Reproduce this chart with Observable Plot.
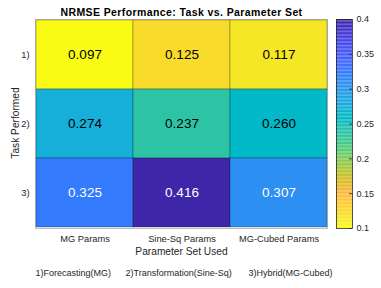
<!DOCTYPE html>
<html><head><meta charset="utf-8">
<script src="https://cdn.jsdelivr.net/npm/d3@7"></script>
<script src="https://cdn.jsdelivr.net/npm/@observablehq/plot@0.6"></script>
<style>
body{margin:0;background:#fff;}
#wrap{position:relative;width:381px;height:288px;}
#wrap svg{position:absolute;top:0;}
</style></head><body><div id="wrap"></div>
<script>
// ---- data ----
const paramSets = ["MG Params", "Sine-Sq Params", "MG-Cubed Params"];
const tasks = ["1)", "2)", "3)"];
const row1 = [0.097, 0.125, 0.117];
const row2 = [0.274, 0.237, 0.260];
const row3 = [0.325, 0.416, 0.307];
const colorTicks = [0.1, 0.15, 0.2, 0.25, 0.3, 0.35, 0.4];
const colorDomain = [0.1, 0.4];
const titleText = "NRMSE Performance: Task vs. Parameter Set";
const xLabel = "Parameter Set Used";
const yLabel = "Task Performed";
const captionItems = ["1)Forecasting(MG)", "2)Transformation(Sine-Sq)", "3)Hybrid(MG-Cubed)"];

// MATLAB parula colormap (64 entries)
const parula = [
[0.2422,0.1504,0.6603],[0.2504,0.1650,0.7076],[0.2578,0.1818,0.7511],[0.2647,0.1978,0.7952],
[0.2706,0.2147,0.8364],[0.2751,0.2342,0.8710],[0.2783,0.2559,0.8991],[0.2803,0.2782,0.9221],
[0.2813,0.3006,0.9414],[0.2810,0.3228,0.9579],[0.2795,0.3447,0.9717],[0.2760,0.3667,0.9829],
[0.2699,0.3892,0.9906],[0.2602,0.4123,0.9952],[0.2440,0.4358,0.9988],[0.2206,0.4603,0.9973],
[0.1963,0.4847,0.9892],[0.1834,0.5074,0.9798],[0.1786,0.5289,0.9682],[0.1764,0.5499,0.9520],
[0.1687,0.5703,0.9359],[0.1540,0.5902,0.9218],[0.1460,0.6091,0.9079],[0.1380,0.6276,0.8973],
[0.1248,0.6459,0.8883],[0.1113,0.6635,0.8763],[0.0952,0.6798,0.8598],[0.0689,0.6948,0.8394],
[0.0297,0.7082,0.8163],[0.0036,0.7203,0.7917],[0.0067,0.7312,0.7660],[0.0433,0.7411,0.7394],
[0.0964,0.7500,0.7120],[0.1408,0.7584,0.6842],[0.1717,0.7670,0.6554],[0.1938,0.7758,0.6251],
[0.2161,0.7843,0.5923],[0.2470,0.7918,0.5567],[0.2906,0.7973,0.5188],[0.3406,0.8008,0.4789],
[0.3909,0.8029,0.4354],[0.4456,0.8024,0.3909],[0.5044,0.7993,0.3480],[0.5616,0.7942,0.3045],
[0.6174,0.7876,0.2612],[0.6720,0.7793,0.2227],[0.7242,0.7698,0.1910],[0.7738,0.7598,0.1646],
[0.8203,0.7498,0.1535],[0.8634,0.7406,0.1596],[0.9035,0.7330,0.1774],[0.9393,0.7288,0.2100],
[0.9728,0.7298,0.2394],[0.9956,0.7434,0.2371],[0.9970,0.7659,0.2199],[0.9952,0.7893,0.2028],
[0.9892,0.8136,0.1885],[0.9786,0.8386,0.1766],[0.9676,0.8639,0.1643],[0.9610,0.8890,0.1537],
[0.9597,0.9135,0.1423],[0.9628,0.9373,0.1265],[0.9691,0.9606,0.1064],[0.9769,0.9839,0.0805]];

// ---- build table ----
const rows = [row1, row2, row3];
const data = [];
tasks.forEach((t, i) => paramSets.forEach((p, j) => data.push({task: t, param: p, value: rows[i][j]})));

const parulaColors = parula.map(([r, g, b]) => d3.rgb(r * 255, g * 255, b * 255).formatHex());
const parulaInterp = d3.piecewise(d3.interpolateRgb, parulaColors);
const colorScale = {type: "linear", domain: colorDomain, clamp: true, interpolate: t => parulaInterp(1 - t)};

const FONT = "'Liberation Sans', Arial, Helvetica, sans-serif";
const GRAY = "#262626";

const main = Plot.plot({
  width: 381, height: 288,
  marginLeft: 35, marginRight: 54, marginTop: 19, marginBottom: 60,
  style: {fontFamily: FONT, background: "white", color: GRAY},
  x: {domain: paramSets, padding: 0},
  y: {domain: tasks, padding: 0},
  color: colorScale,
  marks: [
    Plot.cell(data, {x: "param", y: "task", fill: "value", inset: 0, stroke: "#000", strokeOpacity: 0.25}),
    Plot.frame({stroke: "#000", strokeOpacity: 0.25}),
    Plot.text(data, {filter: d => d.value <= 0.3, x: "param", y: "task", text: d => d.value.toFixed(3), fill: "black", fontSize: 13.5}),
    Plot.text(data, {filter: d => d.value > 0.3, x: "param", y: "task", text: d => d.value.toFixed(3), fill: "white", fontSize: 13.5}),
    Plot.axisX({tickSize: 0, tickPadding: 7, fontSize: 9.3, label: null}),
    Plot.axisY({tickSize: 0, tickPadding: 6, fontSize: 9.3, label: null}),
    Plot.text([titleText], {text: d => d, frameAnchor: "top", lineAnchor: "bottom", dy: -4, fontSize: 10.5, fontWeight: "bold", fill: "black"}),
    Plot.text([xLabel], {text: d => d, frameAnchor: "bottom", lineAnchor: "bottom", dy: 26, fontSize: 10.2, fill: GRAY}),
    Plot.text([yLabel], {text: d => d, frameAnchor: "left", textAnchor: "middle", lineAnchor: "middle", rotate: -90, dx: -20, dy: -1, fontSize: 10.2, fill: GRAY}),
    Plot.text([captionItems[0]], {text: d => d, frameAnchor: "bottom-left", textAnchor: "start", lineAnchor: "bottom", dx: 0, dy: 47, fontSize: 9, fill: GRAY}),
    Plot.text([captionItems[1]], {text: d => d, frameAnchor: "bottom-left", textAnchor: "start", lineAnchor: "bottom", dx: 90, dy: 47, fontSize: 9, fill: GRAY}),
    Plot.text([captionItems[2]], {text: d => d, frameAnchor: "bottom-left", textAnchor: "start", lineAnchor: "bottom", dx: 213, dy: 47, fontSize: 9, fill: GRAY})
  ]
});
main.style.left = "0px";
// letter spacing for the title (Plot has no letterSpacing option)
main.querySelectorAll("text").forEach(t => { if (t.textContent === titleText) t.setAttribute("letter-spacing", "0.4"); });

// colorbar
const N = 150;
const stripes = d3.range(N).map(i => {
  const y1 = colorDomain[0] + (colorDomain[1] - colorDomain[0]) * i / N;
  const y2 = colorDomain[0] + (colorDomain[1] - colorDomain[0]) * (i + 1) / N;
  return {y1, y2, v: (y1 + y2) / 2};
});
const cbar = Plot.plot({
  width: 45, height: 288,
  marginLeft: 0, marginRight: 29, marginTop: 19, marginBottom: 60,
  style: {fontFamily: FONT, background: "transparent", color: GRAY, overflow: "visible"},
  y: {domain: colorDomain},
  color: colorScale,
  marks: [
    Plot.rect(stripes, {y1: "y1", y2: "y2", fill: "v"}),
    Plot.tickY(colorTicks, {y: d => d, insetLeft: 13, stroke: GRAY, strokeWidth: 0.8}),
    Plot.frame({stroke: GRAY, strokeWidth: 0.8}),
    Plot.axisY(colorTicks, {anchor: "right", tickSize: 0, tickPadding: 4, fontSize: 9, tickFormat: d => String(d), label: null})
  ]
});
cbar.style.left = "336px";

const wrap = document.getElementById("wrap");
wrap.appendChild(main);
wrap.appendChild(cbar);
</script>
</body></html>
